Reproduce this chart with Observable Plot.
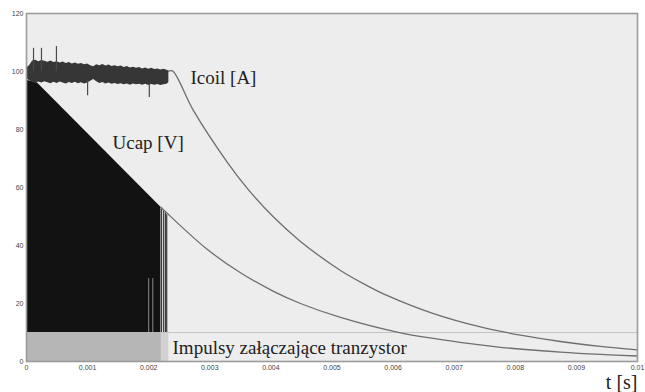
<!DOCTYPE html>
<html><head><meta charset="utf-8">
<script src="https://cdn.jsdelivr.net/npm/d3@7"></script>
<script src="https://cdn.jsdelivr.net/npm/@observablehq/plot@0.6"></script>
<style>body{margin:0;background:#fff}</style></head>
<body><div id="chart"></div>
<script>
// ---- axis ticks ----
const xTicks = [0, 0.001, 0.002, 0.003, 0.004, 0.005, 0.006, 0.007, 0.008, 0.009, 0.01];
const xTickLabels = ["0", "0.001", "0.002", "0.003", "0.004", "0.005", "0.006", "0.007", "0.008", "0.009", "0.01"];
const yTicks = [0, 20, 40, 60, 80, 100, 120];

// ---- Icoil: noisy plateau while transistor is switched ----
const noiseT  = [0, 0.00005, 0.0001, 0.00015, 0.0002, 0.00025, 0.0003, 0.00035, 0.0004, 0.00045,
                 0.0005, 0.00055, 0.0006, 0.00065, 0.0007, 0.00075, 0.0008, 0.00085, 0.0009, 0.00095,
                 0.001, 0.00105, 0.0011, 0.00115, 0.0012, 0.00125, 0.0013, 0.00135, 0.0014, 0.00145,
                 0.0015, 0.00155, 0.0016, 0.00165, 0.0017, 0.00175, 0.0018, 0.00185, 0.0019, 0.00195,
                 0.002, 0.00205, 0.0021, 0.00215, 0.0022, 0.00225, 0.0023, 0.00233];
const noiseHi = [101.2, 102.0, 103.6, 103.9, 103.4, 103.8, 103.5, 103.2, 103.6, 103.1,
                 103.4, 102.9, 103.3, 102.8, 103.1, 102.6, 102.9, 102.5, 102.8, 102.3,
                 102.6, 102.0, 101.6, 102.3, 102.0, 102.4, 101.9, 102.2, 101.7, 102.0,
                 101.6, 101.9, 101.4, 101.7, 101.2, 101.5, 101.1, 101.4, 100.9, 101.2,
                 100.8, 101.1, 100.7, 100.9, 100.5, 100.8, 100.4, 100.2];
const noiseLo = [97.5, 96.8, 96.3, 95.9, 96.4, 96.0, 96.5, 96.1, 95.8, 96.3,
                 95.9, 96.4, 96.0, 95.7, 96.2, 95.9, 96.3, 95.8, 96.1, 95.7,
                 96.0, 96.6, 97.2, 96.5, 95.9, 96.2, 95.7, 96.0, 95.6, 95.9,
                 95.5, 95.8, 95.4, 95.7, 95.3, 95.7, 95.4, 95.6, 95.3, 95.6,
                 95.2, 95.5, 95.3, 95.5, 95.2, 95.4, 95.6, 96.2];
const spikeT    = [0.000115, 0.000245, 0.00049, 0.001, 0.00201];
const spikeFrom = [100, 100, 100, 97, 96];
const spikeTo   = [108, 108, 108.6, 91.6, 91];

// ---- Icoil decay after switch-off ----
const icoilT = [0.00232, 0.00239, 0.002733, 0.00329, 0.003617, 0.004043, 0.004484, 0.005139, 0.005581, 0.005908, 0.006661, 0.00743, 0.008085, 0.00874, 0.009394, 0.01];
const icoilV = [100.1, 100.2, 86.5, 68.6, 59.6, 49.8, 41.4, 31.4, 26.1, 22.7, 16.5, 11.9, 9.1, 6.9, 5.2, 4.0];

// ---- Ucap: charging envelope (filled) and decay ----
const ucapChargeT = [0, 0.00018, 0.0022];
const ucapChargeV = [97, 96, 53.2];
const ucapT = [0.0022, 0.002308, 0.002962, 0.003502, 0.004043, 0.004484, 0.005139, 0.006121, 0.00743, 0.007758, 0.00874, 0.009394, 0.01];
const ucapV = [53.2, 51, 38.6, 30.6, 24.2, 20.0, 15.2, 9.9, 5.7, 4.9, 3.25, 2.45, 1.9];

// switching artefacts near the end of the pulse train
const lightLineT = [0.002, 0.002067];
const lightLineTop = [28.6, 28.6];
const darkLineT = [0.00221, 0.002245, 0.002275, 0.002295];
const darkLineTop = [52.5, 51.8, 51.2, 50.6];

// ---- gate pulses band ----
const pulseOnT = [0, 0.0022];
const pulseFadeT = [0.0022, 0.00233];
const pulseLevel = 10;

const zip = (ts, vs) => ts.map((t, i) => ({t, v: vs[i]}));
const noise = noiseT.map((t, i) => ({t, hi: noiseHi[i], lo: noiseLo[i]}));
const spikes = spikeT.map((t, i) => ({t, a: spikeFrom[i], b: spikeTo[i]}));
const light = zip(lightLineT, lightLineTop);
const dark = zip(darkLineT, darkLineTop);

const labels = [
  {t: 0.002684, v: 97.9, text: "Icoil [A]"},
  {t: 0.001408, v: 75.5, text: "Ucap [V]"},
  {t: 0.00239, v: 4.8, text: "Impulsy załączające tranzystor"}
];

const plot = Plot.plot({
  width: 645, height: 392,
  marginLeft: 26, marginRight: 8, marginTop: 13, marginBottom: 31,
  style: {background: "transparent", fontFamily: "Liberation Sans, Arial, sans-serif", fontSize: "7px", color: "#444"},
  x: {domain: [0, 0.01], ticks: xTicks, tickFormat: d => xTickLabels[xTicks.indexOf(d)], tickSize: 0, tickPadding: 4, label: null},
  y: {domain: [0, 120], ticks: yTicks, tickSize: 0, tickPadding: 3, label: null},
  marks: [
    Plot.frame({fill: "#ededed", stroke: null}),
    Plot.areaY(zip(ucapChargeT, ucapChargeV), {x: "t", y1: 0, y2: "v", fill: "#121212"}),
    Plot.ruleX(light, {x: "t", y1: 0, y2: "v", stroke: "#8a8a8a", strokeWidth: 1}),
    Plot.ruleX(dark, {x: "t", y1: 0, y2: "v", stroke: "#3a3a3a", strokeWidth: 1.2}),
    Plot.rect([0], {x1: pulseOnT[0], x2: pulseOnT[1], y1: 0, y2: pulseLevel, fill: "#b6b6b6"}),
    Plot.rect([0], {x1: pulseFadeT[0], x2: pulseFadeT[1], y1: 0, y2: pulseLevel, fill: "#d2d2d2"}),
    Plot.ruleY([pulseLevel], {x1: pulseFadeT[0], x2: 0.01, stroke: "#c4c4c4", strokeWidth: 1}),
    Plot.line(zip(ucapT, ucapV), {x: "t", y: "v", stroke: "#6e6e6e", strokeWidth: 1.3, curve: "catmull-rom"}),
    Plot.line(zip(icoilT, icoilV), {x: "t", y: "v", stroke: "#6e6e6e", strokeWidth: 1.3, curve: "catmull-rom"}),
    Plot.areaY(noise, {x: "t", y1: "lo", y2: "hi", fill: "#363636"}),
    Plot.ruleX(spikes, {x: "t", y1: "a", y2: "b", stroke: "#4a4a4a", strokeWidth: 1.2}),
    Plot.text(labels, {x: "t", y: "v", text: "text", textAnchor: "start", lineAnchor: "middle", fontFamily: "Liberation Serif, Times New Roman, serif", fontSize: 19, fill: "#222"}),
    Plot.text(["t [s]"], {frameAnchor: "bottom-right", text: d => d, lineAnchor: "middle", dy: 21.5, textAnchor: "end", fontFamily: "Liberation Serif, Times New Roman, serif", fontSize: 20, fill: "#222"}),
    Plot.frame({stroke: "#9c9c9c", strokeWidth: 1.6})
  ]
});
document.getElementById("chart").appendChild(plot);
</script>
</body></html>
